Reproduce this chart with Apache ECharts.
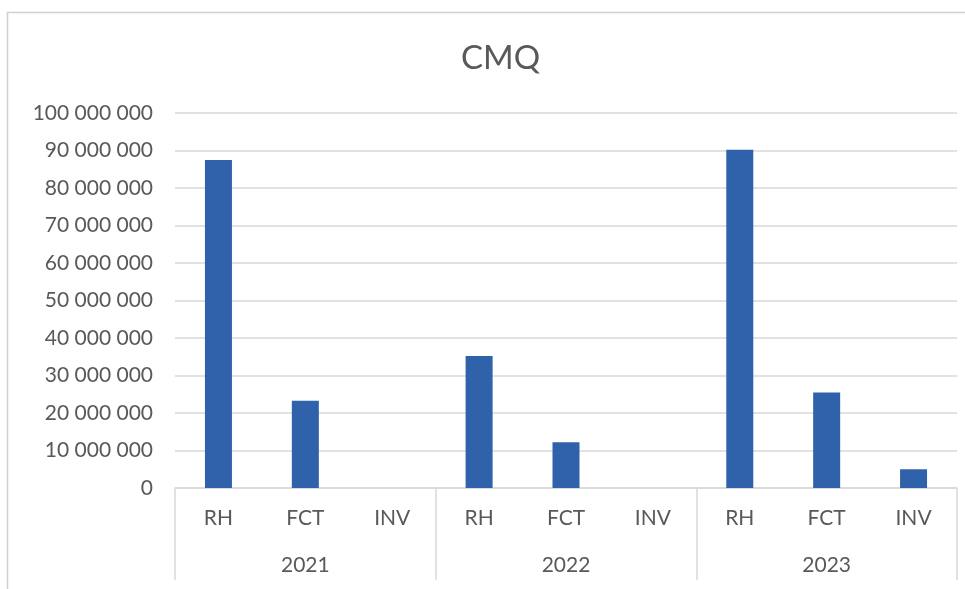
<!DOCTYPE html>
<html>
<head>
<meta charset="utf-8">
<script src="https://cdn.jsdelivr.net/npm/echarts@6/dist/echarts.min.js"></script>
<style>
  html, body { margin: 0; padding: 0; background: #fff; }
  #chart { width: 965px; height: 589px; }
</style>
</head>
<body>
<div id="chart"></div>
<script>
// chart values
var years = ['2021', '2022', '2023'];
var kinds = ['RH', 'FCT', 'INV'];
var values = [
    87500000, 23300000, 0,        // 2021
    35200000, 12200000, 0,        // 2022
    90200000, 25500000, 5000000   // 2023
];
var yTicks = { min: 0, max: 100000000, interval: 10000000 };

var categories = [];
years.forEach(function () {
    kinds.forEach(function (k) { categories.push(k); });
});

function spaced(v) {
    return String(v).replace(/\B(?=(\d{3})+(?!\d))/g, ' ');
}

var font = 'Lato, "Open Sans", sans-serif';
var grey = '#595959';
var lineGrey = '#d9d9d9';

var chart = echarts.init(document.getElementById('chart'));
chart.setOption({
    backgroundColor: '#fff',
    animation: false,
    title: {
        text: 'CMQ',
        left: 456,
        top: 37,
        textStyle: { fontFamily: font, fontSize: 33, fontWeight: 'normal', color: grey }
    },
    graphic: [{
        type: 'rect',
        shape: { x: 7.5, y: 12.5, width: 1000, height: 620 },
        style: { fill: 'none', stroke: '#d0d0d0', lineWidth: 1.5 },
        silent: true
    }],
    grid: { left: 175, right: 8, top: 113, bottom: 101 },
    xAxis: [{
        type: 'category',
        data: categories,
        axisLine: { lineStyle: { color: lineGrey, width: 1.5 } },
        axisTick: { show: false },
        axisLabel: { fontFamily: font, fontSize: 21, color: grey, margin: 20 }
    }, {
        type: 'category',
        data: years,
        position: 'bottom',
        axisLine: { show: false },
        axisTick: { show: true, length: 92, lineStyle: { color: lineGrey, width: 1.5 } },
        axisLabel: { fontFamily: font, fontSize: 21, color: grey, margin: 67 }
    }],
    yAxis: {
        type: 'value',
        min: yTicks.min,
        max: yTicks.max,
        interval: yTicks.interval,
        axisLine: { show: false },
        axisTick: { show: false },
        splitLine: { lineStyle: { color: lineGrey, width: 1.5 } },
        axisLabel: {
            fontFamily: font, fontSize: 21, color: grey, margin: 22,
            formatter: spaced
        }
    },
    series: [{
        type: 'bar',
        xAxisIndex: 0,
        data: values,
        barWidth: 27,
        itemStyle: { color: '#2F62AB' }
    }]
});
</script>
</body>
</html>
